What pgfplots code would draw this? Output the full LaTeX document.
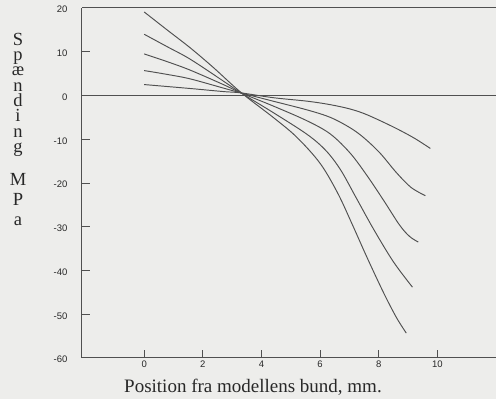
\documentclass[border=0pt]{standalone}
\usepackage{pgfplots}
\pgfplotsset{compat=1.18}
\usepackage{fontspec}
\setmainfont{Liberation Serif}
\newfontfamily\tickfont{Liberation Sans}
\definecolor{bg}{RGB}{237,237,235}
\definecolor{ink}{RGB}{40,40,40}
\definecolor{linec}{RGB}{80,80,80}
\begin{document}
\begin{tikzpicture}
\path[fill=bg, use as bounding box] (-82pt,-41pt) rectangle (414pt,358pt);
\begin{axis}[
  scale only axis, width=414pt, height=350pt,
  xmin=-2.12, xmax=12, ymin=-60, ymax=20,
  axis x line*=box, axis y line*=left,
  axis line style={-, line width=1pt, color=linec},
  xtick={0,2,4,6,8,10}, xticklabels={0,2,4,6,8,10},
  ytick={-50,-40,-30,-20,-10,0,10},
  extra y ticks={-60,20}, extra y tick style={major tick length=0pt},
  yticklabels={-50,-40,-30,-20,-10,0,10},
  extra y tick labels={-60,20},
  xtick pos=left, ytick pos=left,
  tick align=inside, major tick length=8pt,
  tick style={line width=0.9pt, color=linec},
  ticklabel style={font=\tickfont\fontsize{9.5}{11}\selectfont, text=ink},
  yticklabel style={xshift=-11pt, yshift=-1.5pt},
  xticklabel style={yshift=1pt},
  clip=false,
]
\addplot[linec, line width=1pt] coordinates {(-2.12,0) (12,0)};
\addplot[linec, line width=0.95pt, smooth, tension=0.55] coordinates {
(0,19.1) (0.8,14.9) (1.57,10.9) (2.36,6.4) (3.3,0.7) (4.4,-5.0) (5.2,-9.5) (6.0,-15.5) (6.6,-22.3) (7.1,-29.5) (7.6,-37.0) (8.16,-45.0) (8.6,-50.7) (8.94,-54.3)};
\addplot[linec, line width=0.95pt, smooth, tension=0.55] coordinates {
(0,14.0) (0.8,11.1) (1.57,8.3) (2.7,3.3) (3.3,0.6) (4.4,-3.9) (5.56,-8.9) (6.2,-12.6) (6.7,-17.0) (7.2,-23.0) (7.82,-30.5) (8.5,-38.0) (9.15,-43.8)};
\addplot[linec, line width=0.95pt, smooth, tension=0.55] coordinates {
(0,9.5) (0.8,7.7) (1.57,5.8) (2.7,2.5) (3.3,0.6) (4.4,-2.4) (5.56,-5.8) (6.35,-8.8) (7.03,-13.2) (7.6,-18.3) (8.17,-24.0) (8.71,-29.6) (9.05,-32.2) (9.35,-33.5)};
\addplot[linec, line width=0.95pt, smooth, tension=0.55] coordinates {
(0,5.7) (0.8,4.8) (1.57,3.8) (2.7,1.7) (3.3,0.6) (4.4,-1.3) (5.56,-3.3) (6.35,-5.0) (7.03,-7.4) (7.5,-9.7) (8.05,-13.2) (8.6,-17.6) (9.1,-21.0) (9.59,-22.9)};
\addplot[linec, line width=0.95pt, smooth, tension=0.55] coordinates {
(0,2.5) (1.57,1.6) (2.7,0.9) (3.3,0.6) (4.4,-0.5) (5.56,-1.3) (6.35,-2.1) (7.03,-3.1) (7.6,-4.4) (8.5,-7.2) (9.2,-9.7) (9.76,-12.1)};
\end{axis}
\node[anchor=north, text=ink, inner sep=0pt, align=center,
      font=\fontsize{18.5}{15.3}\selectfont] at (-64pt,325.2pt)
  {S\\p\\æ\\n\\d\\i\\n\\g};
\node[anchor=north, text=ink, inner sep=0pt, align=center,
      font=\fontsize{18.5}{20}\selectfont] at (-64pt,185.2pt)
  {M\\P\\a};
\node[anchor=base, text=ink, inner sep=0pt, font=\fontsize{19}{21}\selectfont]
  at (171pt,-35pt) {Position fra modellens bund, mm.};
\end{tikzpicture}
\end{document}
